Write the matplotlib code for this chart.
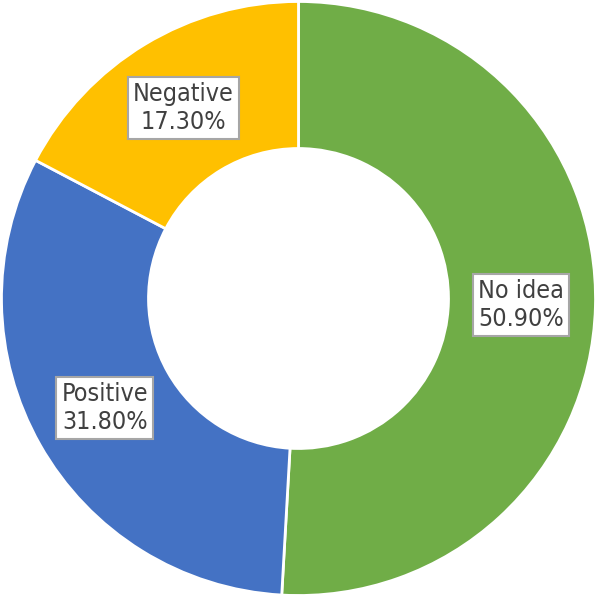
import matplotlib.pyplot as plt
import numpy as np

labels = ['No idea', 'Positive', 'Negative']
values = [50.9, 31.8, 17.3]
colors = ['#70AD47', '#4472C4', '#FFC000']

fig = plt.figure(figsize=(5.97, 5.97), dpi=100)
ax = fig.add_axes([0, 0, 1, 1])

wedges, _ = ax.pie(values, colors=colors, startangle=90, counterclock=False,
                   radius=1.0, wedgeprops=dict(width=0.495, edgecolor='white', linewidth=2))

for w, lab, v in zip(wedges, labels, values):
    mid = np.deg2rad((w.theta1 + w.theta2) / 2)
    r = 0.75
    ax.text(r * np.cos(mid), r * np.sin(mid), f'{lab}\n{v:.2f}%',
            ha='center', va='center', fontsize=18, color='#404040',
            linespacing=1.2, family='DejaVu Sans', fontstretch='condensed',
            bbox=dict(boxstyle='square,pad=0.2', facecolor='white',
                      edgecolor='#A6A6A6', linewidth=1.5))

ax.set_xlim(-1.005, 1.005)
ax.set_ylim(-1.005, 1.005)
ax.set_aspect('equal')
ax.axis('off')

plt.savefig('out.png', dpi=100)
